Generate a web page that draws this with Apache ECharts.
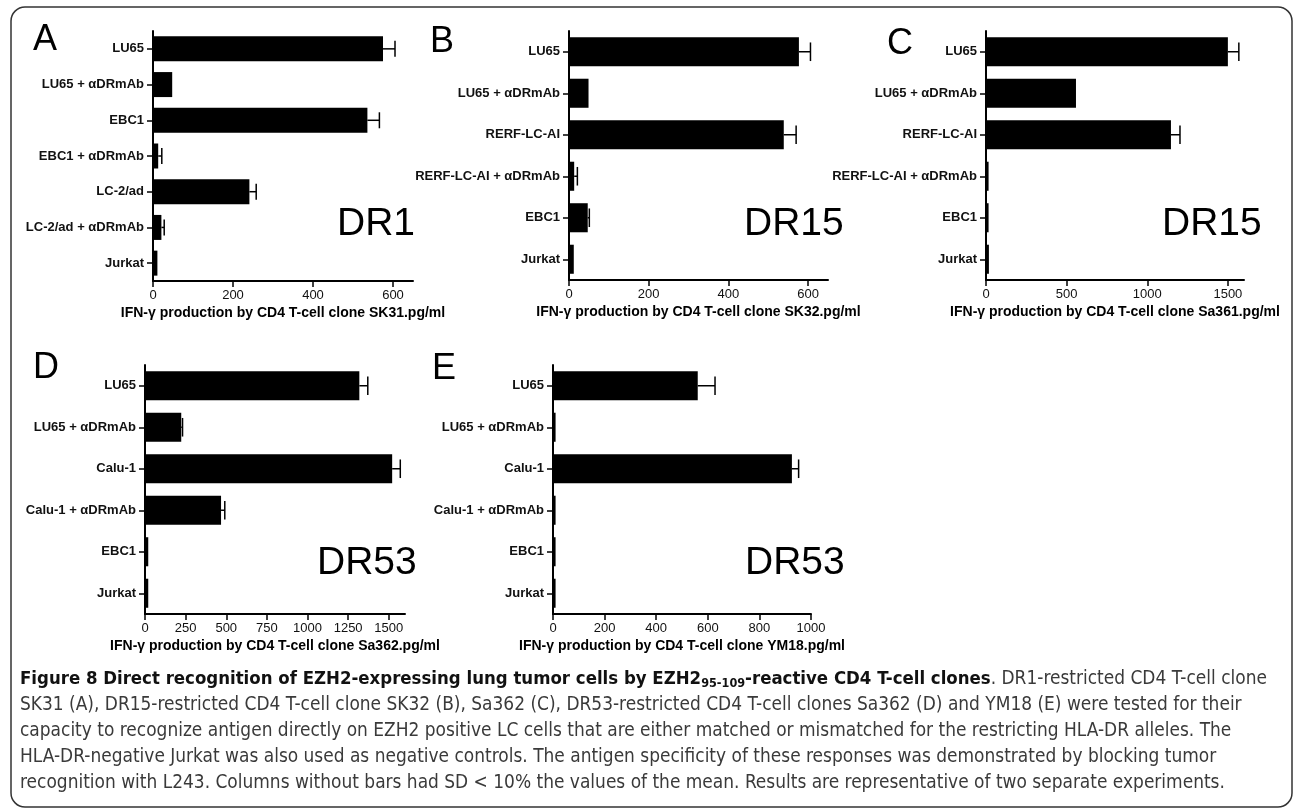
<!DOCTYPE html>
<html>
<head>
<meta charset="utf-8">
<script src="https://cdn.jsdelivr.net/npm/echarts@6/dist/echarts.min.js"></script>
<style>
  html, body { margin: 0; padding: 0; background: #fff; }
  #chart { width: 1293px; height: 809px; }
</style>
</head>
<body>
<div id="chart"></div>
<script>
// Figure 8: IFN-gamma production by CD4 T-cell clones (panels A-E)

// ---- data ----
const catsA = ["LU65", "LU65 + αDRmAb", "EBC1", "EBC1 + αDRmAb", "LC-2/ad", "LC-2/ad + αDRmAb", "Jurkat"];
const meanA = [575, 48, 536, 13, 241, 21, 11];
const sdA = [30, 0, 30, 9, 17, 7, 0];
const ticksA = [0, 200, 400, 600];

const catsB = ["LU65", "LU65 + αDRmAb", "RERF-LC-AI", "RERF-LC-AI + αDRmAb", "EBC1", "Jurkat"];
const meanB = [577, 49, 539, 13, 47, 12];
const sdB = [29, 0, 31, 8, 4, 0];
const ticksB = [0, 200, 400, 600];

const catsC = ["LU65", "LU65 + αDRmAb", "RERF-LC-AI", "RERF-LC-AI + αDRmAb", "EBC1", "Jurkat"];
const meanC = [1500, 558, 1147, 16, 16, 18];
const sdC = [68, 0, 56, 0, 0, 0];
const ticksC = [0, 500, 1000, 1500];

const catsD = ["LU65", "LU65 + αDRmAb", "Calu-1", "Calu-1 + αDRmAb", "EBC1", "Jurkat"];
const meanD = [1319, 223, 1521, 468, 20, 20];
const sdD = [52, 8, 50, 23, 0, 0];
const ticksD = [0, 250, 500, 750, 1000, 1250, 1500];

const catsE = ["LU65", "LU65 + αDRmAb", "Calu-1", "Calu-1 + αDRmAb", "EBC1", "Jurkat"];
const meanE = [561, 10, 926, 10, 10, 10];
const sdE = [67, 0, 26, 0, 0, 0];
const ticksE = [0, 200, 400, 600, 800, 1000];

const axisTitles = [
  "IFN-γ production by CD4 T-cell clone SK31.pg/ml",
  "IFN-γ production by CD4 T-cell clone SK32.pg/ml",
  "IFN-γ production by CD4 T-cell clone Sa361.pg/ml",
  "IFN-γ production by CD4 T-cell clone Sa362.pg/ml",
  "IFN-γ production by CD4 T-cell clone YM18.pg/ml"
];
const panelLetters = ["A", "B", "C", "D", "E"];
const alleleLabels = ["DR1", "DR15", "DR15", "DR53", "DR53"];

// caption: bold head (with subscript) + rest of first line, then body lines
const captionHead = ["Figure 8 Direct recognition of EZH2-expressing lung tumor cells by EZH2", "95-109", "-reactive CD4 T-cell clones"];
const captionTail = ". DR1-restricted CD4 T-cell clone";
const captionBody = [
  "SK31 (A), DR15-restricted CD4 T-cell clone SK32 (B), Sa362 (C), DR53-restricted CD4 T-cell clones Sa362 (D) and YM18 (E) were tested for their",
  "capacity to recognize antigen directly on EZH2 positive LC cells that are either matched or mismatched for the restricting HLA-DR alleles. The",
  "HLA-DR-negative Jurkat was also used as negative controls. The antigen specificity of these responses was demonstrated by blocking tumor",
  "recognition with L243. Columns without bars had SD < 10% the values of the mean. Results are representative of two separate experiments."
];

// ---- layout ----
const FONT = '"Liberation Sans", Arial, Helvetica, sans-serif';
const CAP_FONT = '"Liberation Sans Narrow", "DejaVu Sans Condensed", "Open Sans", sans-serif';

const panels = [
  { cats: catsA, mean: meanA, sd: sdA, ticks: ticksA, max: 650,  grid: { left: 153, top: 31,  width: 260, height: 250 }, lx: 33,  ly: 40,  dx: 337,  dy: 224 },
  { cats: catsB, mean: meanB, sd: sdB, ticks: ticksB, max: 650,  grid: { left: 569, top: 31,  width: 259, height: 249 }, lx: 430, ly: 42,  dx: 744,  dy: 224 },
  { cats: catsC, mean: meanC, sd: sdC, ticks: ticksC, max: 1600, grid: { left: 986, top: 31,  width: 258, height: 249 }, lx: 887, ly: 44,  dx: 1162, dy: 224 },
  { cats: catsD, mean: meanD, sd: sdD, ticks: ticksD, max: 1600, grid: { left: 145, top: 365, width: 260, height: 249 }, lx: 33,  ly: 368, dx: 317,  dy: 563 },
  { cats: catsE, mean: meanE, sd: sdE, ticks: ticksE, max: 1000, grid: { left: 553, top: 365, width: 258, height: 249 }, lx: 432, ly: 369, dx: 745,  dy: 563 }
];

// caption sizes: fit lines to their widths in the figure
const mctx = document.createElement("canvas").getContext("2d");
function textW(font, s) { mctx.font = font; return mctx.measureText(s).width; }
const capSize = 20 * 1212 / textW("20px " + CAP_FONT, captionBody[1]);
const tailW = textW(capSize + "px " + CAP_FONT, captionTail);
const headW20 = textW("bold 20px " + CAP_FONT, captionHead[0] + captionHead[2]) +
  textW("bold 13.6px " + CAP_FONT, captionHead[1]);
const headSize = 20 * (1248 - tailW) / headW20;
const capX = 20, capY0 = 679, capStep = 26;

function errorRender(params, api) {
  const m = api.value(0), c = api.value(1), s = api.value(2);
  if (!s) return null;
  const p0 = api.coord([m, c]);
  const p1 = api.coord([m + s, c]);
  const half = api.size([0, 1])[1] * 0.7 * 0.32;
  const st = { stroke: "#000", lineWidth: 1.5, fill: null };
  return {
    type: "group",
    children: [
      { type: "line", shape: { x1: p0[0], y1: p0[1], x2: p1[0], y2: p1[1] }, style: st },
      { type: "line", shape: { x1: p1[0], y1: p1[1] - half, x2: p1[0], y2: p1[1] + half }, style: st }
    ]
  };
}

const grids = [], xAxes = [], yAxes = [], series = [], graphics = [];

panels.forEach((p, i) => {
  grids.push(Object.assign({ containLabel: false, outerBoundsMode: "none" }, p.grid));
  xAxes.push({
    gridIndex: i, type: "value", min: 0, max: p.max,
    axisLine: { show: true, lineStyle: { color: "#000", width: 2 } },
    axisTick: { show: true, length: 6, customValues: p.ticks, lineStyle: { color: "#000", width: 1.5 } },
    axisLabel: { customValues: p.ticks, formatter: (v) => String(v), margin: 8, fontSize: 13, color: "#111", fontFamily: FONT },
    splitLine: { show: false },
    name: axisTitles[i], nameLocation: "middle", nameGap: 25,
    nameTextStyle: { fontSize: 14, fontWeight: "bold", color: "#000", fontFamily: FONT }
  });
  yAxes.push({
    gridIndex: i, type: "category", data: p.cats, inverse: true,
    axisLine: { show: true, lineStyle: { color: "#000", width: 2 } },
    axisTick: { show: true, alignWithLabel: true, length: 6, lineStyle: { color: "#000", width: 1.5 } },
    axisLabel: { interval: 0, margin: 9, fontSize: 13, fontWeight: "bold", color: "#111", fontFamily: FONT },
    splitLine: { show: false }
  });
  series.push({
    type: "bar", xAxisIndex: i, yAxisIndex: i, data: p.mean,
    barWidth: "70%", itemStyle: { color: "#000" }, silent: true
  });
  series.push({
    type: "custom", xAxisIndex: i, yAxisIndex: i,
    data: p.mean.map((m, k) => [m, k, p.sd[k]]),
    encode: { x: 0, y: 1 }, renderItem: errorRender, silent: true, z: 3
  });
  graphics.push({
    type: "text", x: p.lx, y: p.ly,
    style: { text: panelLetters[i], font: "36px " + FONT, fill: "#000", textVerticalAlign: "middle" }
  });
  graphics.push({
    type: "text", x: p.dx, y: p.dy,
    style: { text: alleleLabels[i], font: "39px " + FONT, fill: "#000", textVerticalAlign: "middle" }
  });
});

// outer rounded frame
graphics.push({
  type: "rect", shape: { x: 11, y: 7, width: 1281, height: 800, r: 14 },
  style: { fill: null, stroke: "#333", lineWidth: 1.5 }, z: -1
});

// caption line 1 (rich: bold title with subscript, then regular text)
graphics.push({
  type: "text", x: capX, y: capY0,
  style: {
    text: "{b|" + captionHead[0] + "}{s|" + captionHead[1] + "}{b|" + captionHead[2] + "}{r|" + captionTail + "}",
    textVerticalAlign: "middle",
    rich: {
      b: { fontFamily: CAP_FONT, fontSize: headSize, fontWeight: "bold", fill: "#111" },
      s: { fontFamily: CAP_FONT, fontSize: headSize * 0.68, fontWeight: "bold", fill: "#111", padding: [10, 0, 0, 0] },
      r: { fontFamily: CAP_FONT, fontSize: capSize, fill: "#3a3a3a" }
    }
  }
});
captionBody.forEach((line, k) => {
  graphics.push({
    type: "text", x: capX, y: capY0 + (k + 1) * capStep,
    style: { text: line, font: capSize + "px " + CAP_FONT, fill: "#3a3a3a", textVerticalAlign: "middle" }
  });
});

const chart = echarts.init(document.getElementById("chart"), null, { renderer: "canvas" });
chart.setOption({
  animation: false,
  backgroundColor: "#fff",
  grid: grids,
  xAxis: xAxes,
  yAxis: yAxes,
  series: series,
  graphic: { elements: graphics }
});
</script>
</body>
</html>
